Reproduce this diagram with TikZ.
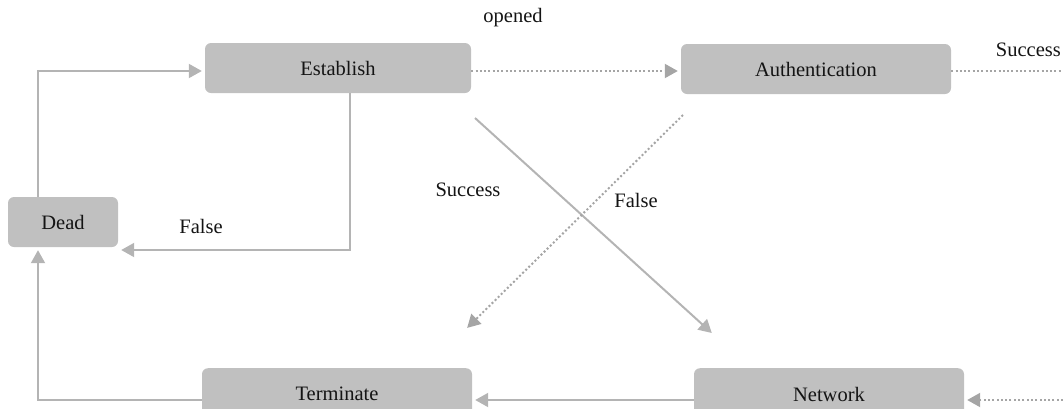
\documentclass[tikz,border=0pt]{standalone}
\usepackage{fontspec}
\setmainfont{Liberation Serif}
\usetikzlibrary{arrows.meta}
\definecolor{boxgray}{RGB}{192,192,192}
\definecolor{linegray}{RGB}{180,180,180}
\definecolor{dotgray}{RGB}{165,165,165}
\definecolor{txt}{RGB}{20,20,20}
\tikzset{
  state/.style={draw=none, fill=boxgray, rounded corners=6pt, minimum height=50pt,
    text=txt, font=\fontsize{20.5}{24}\selectfont, inner sep=0pt},
  conn/.style={draw=linegray, line width=2pt, shorten >=3pt,
    -{Triangle[length=13pt,width=14pt]}},
  plainline/.style={draw=linegray, line width=2pt},
  dots/.style={draw=dotgray, dash pattern=on 2pt off 2.3pt},
  lbl/.style={text=txt, font=\fontsize{20.5}{24}\selectfont, inner sep=0pt}
}
\begin{document}
\begin{tikzpicture}[x=1pt,y=-1pt]
\useasboundingbox (0,0) rectangle (1063,408);
% states (the lower two run past the bottom edge)
\node[state, minimum width=266pt] (est) at (338,68) {Establish};
\node[state, minimum width=270pt] (auth) at (816,69) {Authentication};
\node[state, minimum width=110pt] (dead) at (63,222) {Dead};
\node[state, minimum width=270pt, anchor=north] (term) at (337,368) {};
\node[lbl] (termtxt) at (337,394) {Terminate};
\node[state, minimum width=270pt, anchor=north] (net) at (829,368) {};
\node[lbl] (nettxt) at (829,394) {Network};
% free ends at the right edge
\coordinate (outR) at (1063,71);
\coordinate (inR) at (1063,400);
% connectors
\draw[conn] (dead.north -| 38,0) |- (est.west |- 0,71);
\draw[conn] (est.south -| 350,0) |- (dead.east |- 0,250);
\draw[conn, dots] (est.east |- 0,71) -- (auth.west |- 0,71);
\draw[plainline, dots] (auth.east |- 0,71) -- (outR);
\draw[conn, dots] (inR) -- (net.east |- 0,400);
\draw[conn] (net.west |- 0,400) -- (term.east |- 0,400);
\draw[conn] (term.west |- 0,400) -| (dead.south -| 38,0);
\coordinate (s1) at (475,118);
\coordinate (s2) at (714,335);
\coordinate (f1) at (683,115);
\coordinate (f2) at (465,330);
\draw[conn] (s1) -- (s2);
\draw[conn, dots] (f1) -- (f2);
% labels
\node[lbl] at (513,18) {opened};
\node[lbl, anchor=east] at (1061,50) {Success};
\node[lbl] at (468,190) {Success};
\node[lbl] at (636,200) {False};
\node[lbl] at (201,226) {False};
\end{tikzpicture}
\end{document}
